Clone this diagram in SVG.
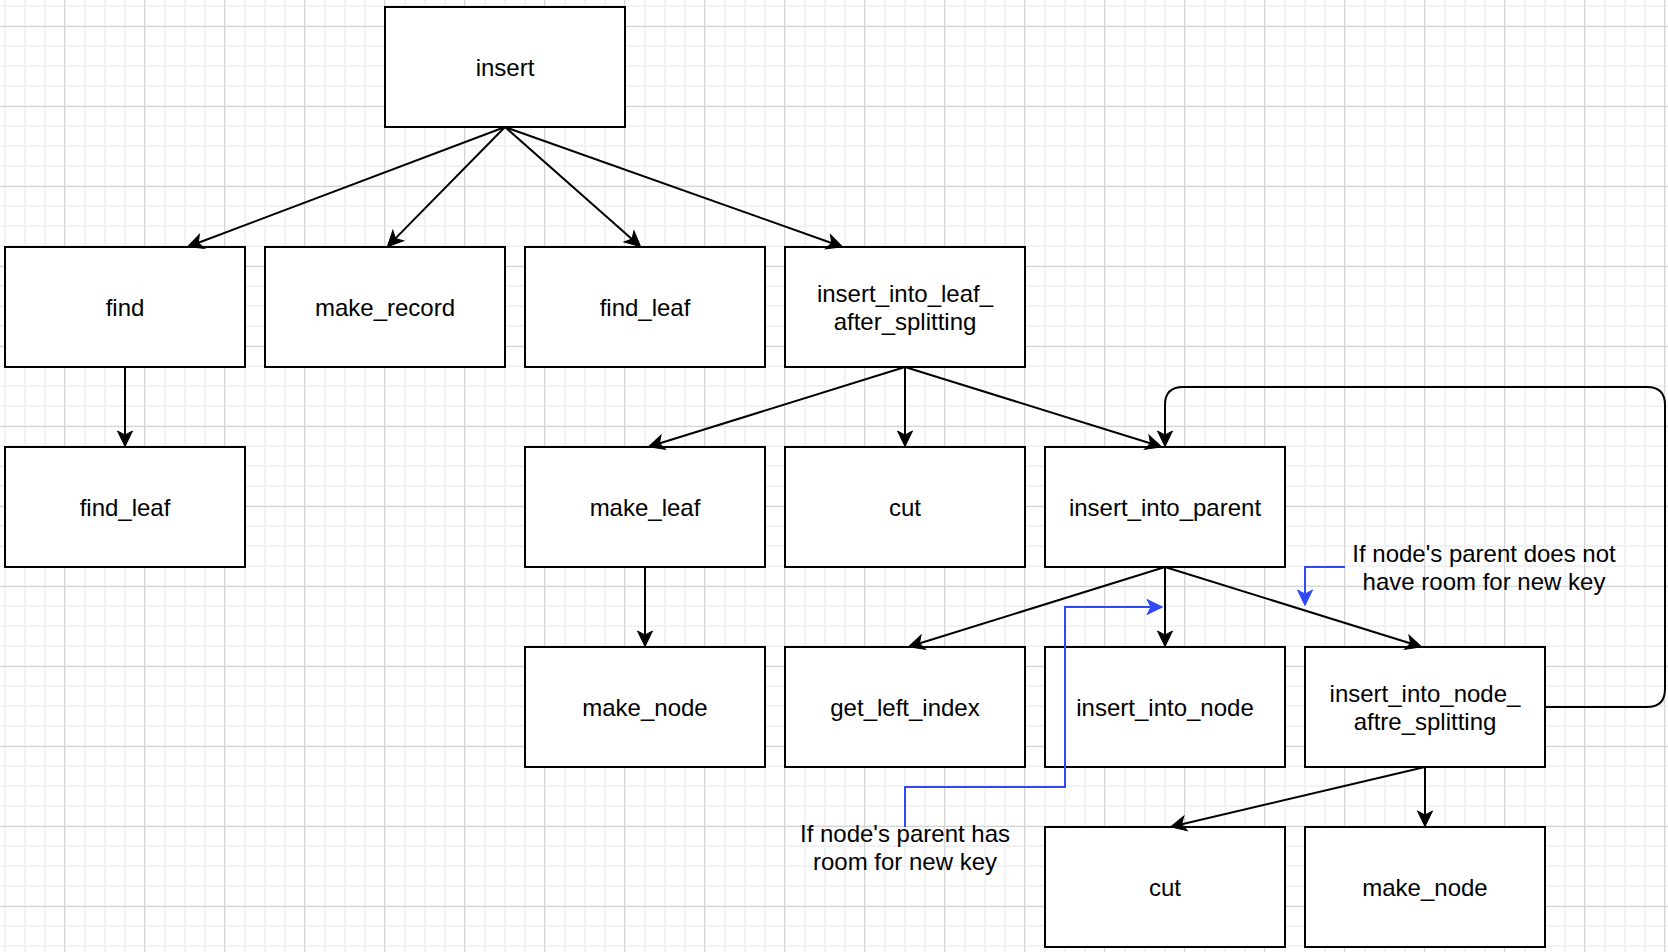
<svg xmlns="http://www.w3.org/2000/svg" width="1668" height="952" viewBox="0 0 1668 952">
  <style>
    .box { fill: #ffffff; stroke: #000000; stroke-width: 2; }
    .lbl { font-family: "Liberation Sans", Arial, Helvetica, sans-serif; font-size: 24px; fill: #000000; text-anchor: middle; }
    .edge { fill: none; stroke: #000000; stroke-width: 2; marker-end: url(#ah); }
    .loop { fill: none; stroke: #000000; stroke-width: 2; marker-end: url(#ah); }
    .blue { fill: none; stroke: #3049f5; stroke-width: 2; marker-end: url(#ahb); }
  </style>
  <defs>
    <pattern id="grid" patternUnits="userSpaceOnUse" x="-5" y="-4" width="80" height="80">
      <rect x="0" y="0" width="80" height="80" fill="#ffffff"/>
      <path d="M10 0V80M30 0V80M50 0V80M70 0V80M0 10H80M0 30H80M0 50H80M0 70H80" stroke="#f2f2f2" stroke-width="2" fill="none"/>
      <path d="M69.5 0V80M0 30.5H80" stroke="#d4d4d4" stroke-width="1" fill="none"/>
    </pattern>
    <marker id="ah" viewBox="-20 -10 24 20" refX="-10" refY="0" markerWidth="24" markerHeight="20" markerUnits="userSpaceOnUse" orient="auto">
      <path d="M-0.5,0 L-16,-7.5 L-12,0 L-16,7.5 Z" fill="#000000" stroke="#000000" stroke-width="1"/>
    </marker>
    <marker id="ahb" viewBox="-20 -10 24 20" refX="-10" refY="0" markerWidth="24" markerHeight="20" markerUnits="userSpaceOnUse" orient="auto">
      <path d="M-0.5,0 L-16,-7.5 L-12,0 L-16,7.5 Z" fill="#3049f5" stroke="#3049f5" stroke-width="1"/>
    </marker>
  </defs>

  <rect x="0" y="0" width="1668" height="952" fill="url(#grid)"/>

  <g id="node-insert">
    <rect class="box" x="385" y="7" width="240" height="120"/>
    <text class="lbl" x="505" y="76">insert</text>
  </g>
  <g id="node-find">
    <rect class="box" x="5" y="247" width="240" height="120"/>
    <text class="lbl" x="125" y="316">find</text>
  </g>
  <g id="node-make-record">
    <rect class="box" x="265" y="247" width="240" height="120"/>
    <text class="lbl" x="385" y="316">make_record</text>
  </g>
  <g id="node-find-leaf-1">
    <rect class="box" x="525" y="247" width="240" height="120"/>
    <text class="lbl" x="645" y="316">find_leaf</text>
  </g>
  <g id="node-insert-into-leaf-after-splitting">
    <rect class="box" x="785" y="247" width="240" height="120"/>
    <text class="lbl" x="905" y="301.5">insert_into_leaf_</text>
    <text class="lbl" x="905" y="329.5">after_splitting</text>
  </g>
  <g id="node-find-leaf-2">
    <rect class="box" x="5" y="447" width="240" height="120"/>
    <text class="lbl" x="125" y="516">find_leaf</text>
  </g>
  <g id="node-make-leaf">
    <rect class="box" x="525" y="447" width="240" height="120"/>
    <text class="lbl" x="645" y="516">make_leaf</text>
  </g>
  <g id="node-cut-1">
    <rect class="box" x="785" y="447" width="240" height="120"/>
    <text class="lbl" x="905" y="516">cut</text>
  </g>
  <g id="node-insert-into-parent">
    <rect class="box" x="1045" y="447" width="240" height="120"/>
    <text class="lbl" x="1165" y="516">insert_into_parent</text>
  </g>
  <g id="node-make-node-1">
    <rect class="box" x="525" y="647" width="240" height="120"/>
    <text class="lbl" x="645" y="716">make_node</text>
  </g>
  <g id="node-get-left-index">
    <rect class="box" x="785" y="647" width="240" height="120"/>
    <text class="lbl" x="905" y="716">get_left_index</text>
  </g>
  <g id="node-insert-into-node">
    <rect class="box" x="1045" y="647" width="240" height="120"/>
    <text class="lbl" x="1165" y="716">insert_into_node</text>
  </g>
  <g id="node-insert-into-node-aftre-splitting">
    <rect class="box" x="1305" y="647" width="240" height="120"/>
    <text class="lbl" x="1425" y="701.5">insert_into_node_</text>
    <text class="lbl" x="1425" y="729.5">aftre_splitting</text>
  </g>
  <g id="node-cut-2">
    <rect class="box" x="1045" y="827" width="240" height="120"/>
    <text class="lbl" x="1165" y="896">cut</text>
  </g>
  <g id="node-make-node-2">
    <rect class="box" x="1305" y="827" width="240" height="120"/>
    <text class="lbl" x="1425" y="896">make_node</text>
  </g>
  <g id="note-room">
    <text class="lbl" x="905" y="841.5">If node's parent has</text>
    <text class="lbl" x="905" y="869.5">room for new key</text>
  </g>
  <g id="note-no-room">
    <text class="lbl" x="1484" y="562">If node's parent does not</text>
    <text class="lbl" x="1484" y="589.5">have room for new key</text>
  </g>

  <g id="connectors">
    <path class="edge" d="M505 127 L196.4 243.5"/>
    <path class="edge" d="M505 127 L394 239.9"/>
    <path class="edge" d="M505 127 L633.5 240.4"/>
    <path class="edge" d="M505 127 L833.6 243.7"/>
    <path class="edge" d="M125 367 L125 437"/>
    <path class="edge" d="M905 367 L657.5 444"/>
    <path class="edge" d="M905 367 L905 437"/>
    <path class="edge" d="M905 367 L1152.5 444"/>
    <path class="edge" d="M645 567 L645 637"/>
    <path class="edge" d="M1165 567 L917.5 644"/>
    <path class="edge" d="M1165 567 L1165 637"/>
    <path class="edge" d="M1165 567 L1412.5 644"/>
    <path class="edge" d="M1425 767 L1179.7 824.7"/>
    <path class="edge" d="M1425 767 L1425 817"/>
    <path class="loop" d="M1545 707 H1647 Q1665 707 1665 689 V405 Q1665 387 1647 387 H1183 Q1165 387 1165 405 V437"/>
    <path class="blue" d="M905 827 V787 H1065 V607 H1153"/>
    <path class="blue" d="M1345 567 H1305 V596"/>
  </g>
</svg>
